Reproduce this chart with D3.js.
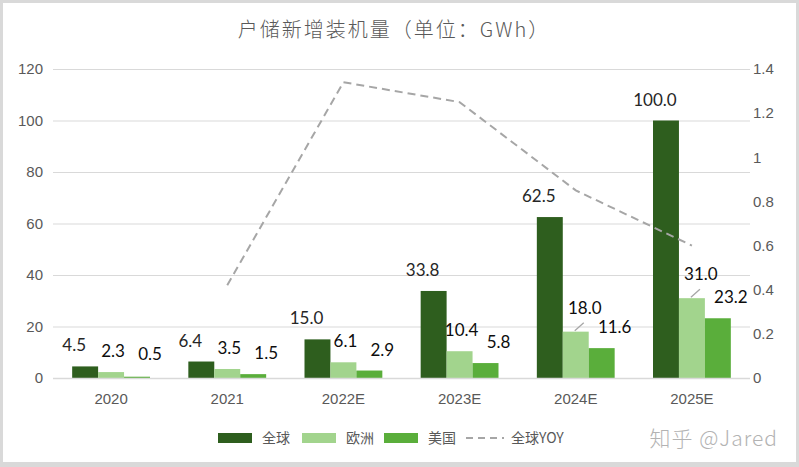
<!DOCTYPE html>
<html><head><meta charset="utf-8">
<script src="https://cdn.jsdelivr.net/npm/d3@7"></script>
<style>html,body{margin:0;padding:0;background:#fff}</style>
</head><body>
<svg id="c" width="799" height="467"></svg>
<script>
const categories = ["2020", "2021", "2022E", "2023E", "2024E", "2025E"];
const seriesNames = ["全球", "欧洲", "美国"];
const globalVals = [4.5, 6.4, 15.0, 33.8, 62.5, 100.0];
const europeVals = [2.3, 3.5, 6.1, 10.4, 18.0, 31.0];
const usVals = [0.5, 1.5, 2.9, 5.8, 11.6, 23.2];
const yoyVals = [null, 0.42, 1.34, 1.25, 0.85, 0.60];
const leftTicks = [0, 20, 40, 60, 80, 100, 120];
const rightTicks = [0, 0.2, 0.4, 0.6, 0.8, 1, 1.2, 1.4];
const title = "户储新增装机量（单位：GWh）";

(function () {
const colors = ["#2e5e1e", "#a2d48d", "#5aae3b"];
const seriesVals = [globalVals, europeVals, usVals];

const svg = d3.select("#c");
const W = 799, H = 467;
svg.append("rect").attr("x", 1.5).attr("y", 1.5).attr("width", W - 3).attr("height", H - 5)
  .attr("fill", "#fff").attr("stroke", "#d9d9d9").attr("stroke-width", 3);
svg.append("rect").attr("x", 0).attr("y", H - 5).attr("width", W).attr("height", 5).attr("fill", "#d9d9d9");

const pL = 53, pR = 750, pT = 69, pB = 378;
const x = d3.scaleBand().domain(categories).range([pL, pR]).paddingInner(0).paddingOuter(0);
const bw = x.bandwidth();
const xs = d3.scaleBand().domain(seriesNames).range([bw * 0.165, bw * 0.835]);
const y = d3.scaleLinear().domain([0, 120]).range([pB, pT]);
const y2 = d3.scaleLinear().domain([0, 1.4]).range([pB, pT]);

// gridlines
svg.append("g").selectAll("line").data(leftTicks).join("line")
  .attr("x1", pL).attr("x2", pR)
  .attr("y1", d => y(d) + 0.5).attr("y2", d => y(d) + 0.5)
  .attr("stroke", "#d9d9d9").attr("stroke-width", 1.2);

// left axis
const axL = svg.append("g").attr("transform", `translate(${pL - 10},0)`)
  .call(d3.axisLeft(y).tickValues(leftTicks).tickSize(0).tickPadding(0));
axL.select(".domain").remove();
axL.selectAll("text").attr("font-family", "Liberation Sans, Arial, sans-serif")
  .attr("font-size", 15).attr("fill", "#595959");

// right axis
const axR = svg.append("g").attr("transform", `translate(${pR + 3},0)`)
  .call(d3.axisRight(y2).tickValues(rightTicks).tickSize(0).tickPadding(0).tickFormat(d3.format("~g")));
axR.select(".domain").remove();
axR.selectAll("text").attr("font-family", "Liberation Sans, Arial, sans-serif")
  .attr("font-size", 15).attr("fill", "#595959");

// x axis labels
const axB = svg.append("g").attr("transform", `translate(0,${pB + 12})`)
  .call(d3.axisBottom(x).tickSize(0).tickPadding(0));
axB.select(".domain").remove();
axB.selectAll("text").attr("font-family", "Liberation Sans, Arial, sans-serif")
  .attr("font-size", 15).attr("fill", "#595959").attr("dy", "0.9em");

// bars
const barData = [];
seriesNames.forEach((s, si) => categories.forEach((c, ci) => {
  barData.push({ s, si, c, v: seriesVals[si][ci] });
}));
svg.append("g").selectAll("rect").data(barData).join("rect")
  .attr("x", d => x(d.c) + xs(d.s))
  .attr("width", xs.bandwidth())
  .attr("y", d => y(d.v))
  .attr("height", d => y(0) - y(d.v))
  .attr("fill", d => colors[d.si]);

// axis baseline
svg.append("line").attr("x1", pL).attr("x2", pR).attr("y1", pB + 0.5).attr("y2", pB + 0.5)
  .attr("stroke", "#d9d9d9").attr("stroke-width", 1.5);

// YOY line
const line = d3.line().defined(d => d.v != null)
  .x(d => x(d.c) + bw / 2).y(d => y2(d.v));
svg.append("path").datum(categories.map((c, i) => ({ c, v: yoyVals[i] })))
  .attr("d", line).attr("fill", "none").attr("stroke", "#a6a6a6")
  .attr("stroke-width", 2).attr("stroke-dasharray", "8,5");

// data labels
const dxs = [-11, 2, 13];
const labelFont = "Lato, 'Open Sans', sans-serif";
const lab = svg.append("g");
barData.forEach(d => {
  const cx = x(d.c) + xs(d.s) + xs.bandwidth() / 2;
  const ty = y(d.v);
  let ly = Math.min(ty - 15, 360);
  let lx = cx + dxs[d.si];
  if (d.si === 1 && d.v >= 15) {
    ly = ty - 18;
    lx = cx + 9;
    lab.append("line").attr("x1", cx - 1).attr("y1", ty - 1)
      .attr("x2", cx + 8).attr("y2", ty - 9)
      .attr("stroke", "#a6a6a6").attr("stroke-width", 1.3);
  }
  lab.append("text").attr("x", lx).attr("y", ly)
    .attr("text-anchor", "middle")
    .attr("font-family", labelFont).attr("font-size", 17)
    .attr("fill", d.si === 0 ? "#262626" : "#0d0d0d")
    .text(d3.format(".1f")(d.v));
});

// title
svg.append("text").attr("x", 394).attr("y", 37).attr("text-anchor", "middle")
  .attr("font-family", "'Noto Sans CJK SC', sans-serif").attr("font-weight", 300)
  .attr("font-size", 20).attr("letter-spacing", 2).attr("fill", "#595959").text(title);

// legend
const lg = svg.append("g").attr("font-family", "'Noto Sans CJK SC', sans-serif")
  .attr("font-size", 14).attr("fill", "#595959");
const legendY = 438;
const items = [
  { t: seriesNames[0], type: "rect", color: colors[0], x: 218 },
  { t: seriesNames[1], type: "rect", color: colors[1], x: 302 },
  { t: seriesNames[2], type: "rect", color: colors[2], x: 384 },
  { t: "全球YOY", type: "line", color: "#a6a6a6", x: 466 }
];
items.forEach(it => {
  if (it.type === "rect") {
    lg.append("rect").attr("x", it.x).attr("y", legendY - 5).attr("width", 34).attr("height", 10).attr("fill", it.color);
  } else {
    lg.append("line").attr("x1", it.x).attr("x2", it.x + 38).attr("y1", legendY).attr("y2", legendY)
      .attr("stroke", it.color).attr("stroke-width", 2).attr("stroke-dasharray", "7,5");
  }
  lg.append("text").attr("x", it.x + (it.type === "rect" ? 44 : 45)).attr("y", legendY + 5).text(it.t);
});

// watermark
svg.append("text").attr("x", 778).attr("y", 446).attr("text-anchor", "end")
  .attr("font-family", "'Noto Sans CJK SC', sans-serif").attr("font-weight", 300)
  .attr("font-size", 21).attr("letter-spacing", 1).attr("fill", "#b3b3b3").text("知乎 @Jared");
})();
</script>
</body></html>
